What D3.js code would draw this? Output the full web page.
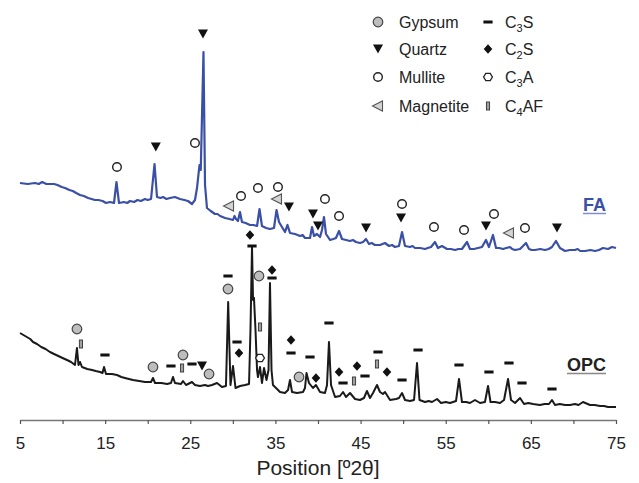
<!DOCTYPE html>
<html>
<head>
<meta charset="utf-8">
<script src="https://cdn.jsdelivr.net/npm/d3@7"></script>
<style>
  body { margin: 0; background: #fff; }
  text { font-family: "Liberation Sans", Arial, sans-serif; fill: #222; }
</style>
</head>
<body>
<div id="chart"></div>
<script>
// XRD patterns, [2theta, intensity (a.u., offset as plotted)]
var faPattern = [
  [5.00,237],[5.9,236],[6.76,237],[7.2,236],[7.6,238],[8.1,236],[8.52,236],[9.0,236],[9.4,235],[9.9,233],[10.29,232],
  [10.8,230],[11.2,229],[11.6,227],[12.05,225],[12.5,224],[13.0,222],[13.4,221],[13.81,220],[14.2,220],[14.7,219],
  [15.1,217],[15.57,218],[16.04,217],[16.33,238],[16.63,217],[17.2,218],[17.6,217],[17.92,219],[18.4,218],[18.8,220],
  [19.2,219],[19.68,221],[20.0,220],[20.39,221],[20.80,256],[21.09,223],[21.5,222],[21.8,223],[22.2,221],[22.62,222],
  [23.2,223],[23.79,221],[24.3,220],[24.73,219],[25.20,216],[25.55,220],[25.79,232],[26.08,255],[26.23,250],[26.55,368],
  [26.73,235],[26.96,212],[27.4,209],[27.90,206],[28.2,206],[28.5,204],[28.8,203],[29.08,202],[29.6,201],[30.02,200],
  [30.19,204],[30.37,201],[30.60,199],[30.84,208],[31.07,198],[31.5,197],[32.01,195],[32.4,195],[32.84,194],[33.13,211],
  [33.42,194],[33.9,192],[34.36,191],[34.83,192],[35.13,210],[35.42,198],[35.77,193],[36.12,188],[36.42,195],[36.71,187],
  [37.3,186],[37.89,184],[38.2,185],[38.47,182],[39.06,182],[39.30,193],[39.53,184],[39.88,186],[40.24,183],[40.47,190],
  [40.70,203],[40.94,186],[41.41,180],[41.8,181],[42.11,182],[42.47,189],[42.82,181],[43.3,180],[43.76,179],[44.1,180],
  [44.46,178],[44.93,177],[45.3,178],[45.64,181],[45.99,176],[46.3,177],[46.69,175],[47.28,175],[47.87,177],[48.34,174],
  [48.7,175],[49.04,173],[49.51,174],[49.87,188],[50.22,174],[50.8,173],[51.1,174],[51.39,172],[52.0,172],[52.57,171],
  [52.9,172],[53.27,173],[53.74,178],[54.09,172],[54.56,174],[55.15,171],[55.6,171],[56.09,170],[56.5,171],[56.91,171],
  [57.50,178],[57.85,171],[58.3,171],[58.79,172],[59.26,173],[59.73,180],[60.08,173],[60.55,185],[60.91,172],[61.3,172],
  [61.73,171],[62.1,172],[62.55,173],[62.8,171],[63.14,170],[63.73,171],[64.43,177],[64.78,171],[65.1,170],[65.49,170],
  [66.1,171],[66.66,170],[67.1,171],[67.48,173],[67.95,179],[68.42,172],[69.01,169],[69.6,170],[70.18,170],[70.5,171],
  [70.8,169],[71.36,169],[72.0,170],[72.53,169],[73.0,170],[73.47,172],[74.06,171],[74.53,173],[75.00,172]
];

var opcPattern = [
  [5.00,87],[5.4,85],[5.8,83],[6.2,81],[6.53,78],[7.0,76],[7.5,73],[8.0,71],[8.52,68],[9.0,66],[9.5,64],
  [10.0,62],[10.52,60],[11.0,58],[11.46,55],[11.69,72],[11.87,55],[12.05,58],[12.28,53],[12.9,51],[13.46,50],
  [13.9,49],[14.40,48],[14.69,47],[14.87,53],[15.10,46],[15.8,46],[16.39,45],[16.9,43],[17.33,42],[17.8,41],
  [18.27,40],[19.0,39],[19.68,38],[20.39,38],[20.62,42],[20.86,37],[21.6,37],[22.27,36],[22.73,37],[22.97,43],
  [23.20,37],[23.91,36],[24.14,39],[24.50,35],[25.20,38],[25.55,35],[26.14,34],[26.73,35],[27.08,34],[27.55,35],
  [28.14,37],[28.72,33],[29.19,34],[29.45,118],[29.72,35],[30.02,54],[30.31,32],[30.84,34],[31.43,35],[31.90,36],
  [32.07,90],[32.25,173],[32.37,120],[32.48,122],[32.66,90],[32.84,50],[32.95,43],[33.19,53],[33.42,37],[33.66,52],
  [33.95,40],[34.19,50],[34.36,137],[34.54,50],[34.71,35],[35.07,32],[35.54,28],[36.12,27],[36.48,30],[36.71,40],
  [36.95,28],[37.53,27],[38.24,28],[38.47,32],[38.65,47],[38.94,37],[39.41,32],[39.76,35],[40.24,28],[40.82,27],
  [41.06,35],[41.29,78],[41.53,35],[42.00,23],[42.58,24],[42.94,28],[43.29,23],[43.76,27],[44.35,21],[44.93,20],
  [45.40,22],[45.75,29],[46.11,22],[46.46,27],[46.93,35],[47.28,28],[47.63,26],[47.87,28],[48.46,20],[49.16,21],
  [49.51,22],[49.87,27],[50.22,20],[50.81,19],[51.28,20],[51.63,57],[51.92,20],[52.57,18],[53.0,19],[53.39,18],
  [53.98,21],[54.45,17],[55.0,18],[55.50,17],[56.21,19],[56.56,41],[56.91,18],[57.4,18],[57.85,17],[58.44,20],
  [59.03,17],[59.61,18],[59.97,34],[60.26,18],[60.79,18],[61.38,17],[61.85,20],[62.32,41],[62.67,20],[63.14,17],
  [63.73,22],[64.20,16],[64.7,17],[65.25,16],[66.07,15],[66.6,16],[67.13,16],[67.48,20],[67.84,15],[68.4,16],
  [69.01,15],[69.6,15],[70.18,16],[70.6,15],[71.12,18],[71.95,15],[72.5,15],[73.12,14],[73.6,14],[74.06,13],[75.00,13]
];

// phase markers, [2theta, height]
var faQuartz = [[20.95,273],[26.49,386],[36.59,213],[39.41,206],[40.00,194],[45.64,192],[49.75,202],[59.73,194],[68.07,192]];
var faMullite = [[16.39,253],[25.55,277],[30.96,224],[32.95,232],[35.30,233],[40.82,221],[42.47,204],[49.87,216],[53.62,193],[57.15,190],[60.67,206],[64.31,192]];
var faMagnetite = [[29.55,214],[35.18,221],[62.43,187]];

var opcGypsum = [[11.69,91],[20.62,53],[24.14,65],[27.20,46],[29.43,131],[33.07,144],[37.77,43]];
var opcQuartz = [[26.38,54]];
var opcC3S = [[14.98,65],[22.73,54],[25.20,56],[29.43,144],[30.49,78],[32.25,174],[34.60,142],[36.83,67],[39.06,63],[41.29,97],
  [42.94,37],[45.52,44],[47.05,68],[49.87,40],[51.75,70],[56.56,55],[60.08,48],[62.43,57],[63.96,37],[67.48,31]];
var opcC2S = [[30.72,67],[32.01,185],[34.60,150],[36.83,80],[39.76,42],[42.47,48],[44.58,54],[48.10,48]];
var opcC3A = [[33.19,62]];
var opcC4AF = [[12.16,76],[24.03,52],[33.19,93],[44.23,39],[46.93,56]];

var xTicks = [5, 10, 15, 20, 25, 30, 35, 40, 45, 50, 55, 60, 65, 70, 75];

var width = 639, height = 483;
var svg = d3.select("#chart").append("svg")
  .attr("width", width)
  .attr("height", height);

var x = d3.scaleLinear().domain([5, 75]).range([20, 616]);
var y = d3.scaleLinear().domain([0, 400]).range([420, 20]);

var line = d3.line()
  .x(function(d) { return x(d[0]); })
  .y(function(d) { return y(d[1]); });

svg.append("path").datum(faPattern)
  .attr("d", line)
  .attr("fill", "none")
  .attr("stroke", "#3a4fa6")
  .attr("stroke-width", 2.2)
  .attr("stroke-linejoin", "round");

svg.append("path").datum(opcPattern)
  .attr("d", line)
  .attr("fill", "none")
  .attr("stroke", "#1a1a1a")
  .attr("stroke-width", 2)
  .attr("stroke-linejoin", "round");

// axis
var xAxis = d3.axisBottom(x)
  .tickValues(xTicks)
  .tickSize(4)
  .tickSizeOuter(0)
  .tickPadding(13)
  .tickFormat(function(d) { return (d - 5) % 10 === 0 ? d : ""; });

var gx = svg.append("g")
  .attr("transform", "translate(0," + 420 + ")")
  .call(xAxis);
gx.select(".domain").attr("stroke", "#777").attr("stroke-width", 1.6);
gx.selectAll(".tick line").attr("stroke", "#555").attr("stroke-width", 1.2);
gx.selectAll(".tick text")
  .attr("fill", "#222")
  .style("font-family", "'Liberation Sans', Arial, sans-serif")
  .style("font-size", "17px");

svg.append("text")
  .attr("x", 318).attr("y", 475)
  .attr("text-anchor", "middle")
  .style("font-size", "21px")
  .text("Position [\u00BA2\u03B8]");

// marker shapes, drawn centred on (0,0)
function drawMarker(g, kind) {
  if (kind == "gypsum") {
    g.append("circle").attr("r", 4.8).attr("fill", "#bdbdbd").attr("stroke", "#444").attr("stroke-width", 1.2);
  } else if (kind == "quartz") {
    g.append("path").attr("d", "M-5,-4.5L5,-4.5L0,4.5Z").attr("fill", "#111");
  } else if (kind == "mullite") {
    g.append("circle").attr("r", 4.3).attr("fill", "#fff").attr("stroke", "#222").attr("stroke-width", 1.4);
  } else if (kind == "magnetite") {
    g.append("path").attr("d", "M-5.5,0L4.5,-5L4.5,5Z").attr("fill", "#d4d4d4").attr("stroke", "#555").attr("stroke-width", 1.1);
  } else if (kind == "c3s") {
    g.append("rect").attr("x", -4.6).attr("y", -1.5).attr("width", 9.2).attr("height", 3).attr("fill", "#111");
  } else if (kind == "c2s") {
    g.append("path").attr("d", "M0,-4.8L4.3,0L0,4.8L-4.3,0Z").attr("fill", "#111");
  } else if (kind == "c3a") {
    g.append("path").attr("d", "M-2.2,-3.6L2.2,-3.6L4.4,0L2.2,3.6L-2.2,3.6L-4.4,0Z")
      .attr("fill", "#fff").attr("stroke", "#222").attr("stroke-width", 1.3);
  } else if (kind == "c4af") {
    g.append("rect").attr("x", -1.6).attr("y", -4).attr("width", 3.2).attr("height", 8)
      .attr("fill", "#a0a0a0").attr("stroke", "#333").attr("stroke-width", 0.9);
  }
}

function addMarkers(data, kind) {
  svg.append("g").selectAll("g")
    .data(data)
    .enter().append("g")
    .attr("transform", function(d) { return "translate(" + x(d[0]) + "," + y(d[1]) + ")"; })
    .each(function() { drawMarker(d3.select(this), kind); });
}

addMarkers(faQuartz, "quartz");
addMarkers(faMullite, "mullite");
addMarkers(faMagnetite, "magnetite");
addMarkers(opcGypsum, "gypsum");
addMarkers(opcQuartz, "quartz");
addMarkers(opcC3S, "c3s");
addMarkers(opcC2S, "c2s");
addMarkers(opcC3A, "c3a");
addMarkers(opcC4AF, "c4af");

// series labels
function seriesLabel(txt, xr, yb, color, lineColor) {
  var t = svg.append("text")
    .attr("x", xr).attr("y", yb)
    .attr("text-anchor", "end")
    .style("font-size", "18px")
    .style("font-weight", "bold")
    .style("fill", color)
    .text(txt);
  var w = t.node().getComputedTextLength();
  svg.append("line")
    .attr("x1", xr - w).attr("x2", xr)
    .attr("y1", yb + 2.5).attr("y2", yb + 2.5)
    .attr("stroke", lineColor).attr("stroke-width", 1.5);
}
seriesLabel("FA", 606, 211, "#3a4fa6", "#7f8fcc");
seriesLabel("OPC", 606, 371, "#222", "#888");

// legend
var legendItems = [
  { kind: "gypsum", name: "Gypsum", col: 0, row: 0 },
  { kind: "quartz", name: "Quartz", col: 0, row: 1 },
  { kind: "mullite", name: "Mullite", col: 0, row: 2 },
  { kind: "magnetite", name: "Magnetite", col: 0, row: 3 },
  { kind: "c3s", name: ["C", "3", "S"], col: 1, row: 0 },
  { kind: "c2s", name: ["C", "2", "S"], col: 1, row: 1 },
  { kind: "c3a", name: ["C", "3", "A"], col: 1, row: 2 },
  { kind: "c4af", name: ["C", "4", "AF"], col: 1, row: 3 }
];
var legendX = [378, 488], legendY = [22, 49, 77, 106];

legendItems.forEach(function(it) {
  var g = svg.append("g")
    .attr("transform", "translate(" + legendX[it.col] + "," + legendY[it.row] + ")");
  drawMarker(g.append("g"), it.kind);
  var t = g.append("text")
    .attr("x", it.col == 0 ? 21 : 17).attr("y", 5.5)
    .style("font-size", "16px");
  if (typeof it.name == "string") {
    t.text(it.name);
  } else {
    t.append("tspan").text(it.name[0]);
    t.append("tspan").attr("dy", 4).style("font-size", "11px").text(it.name[1]);
    t.append("tspan").attr("dy", -4).text(it.name[2]);
  }
});
</script>
</body>
</html>
